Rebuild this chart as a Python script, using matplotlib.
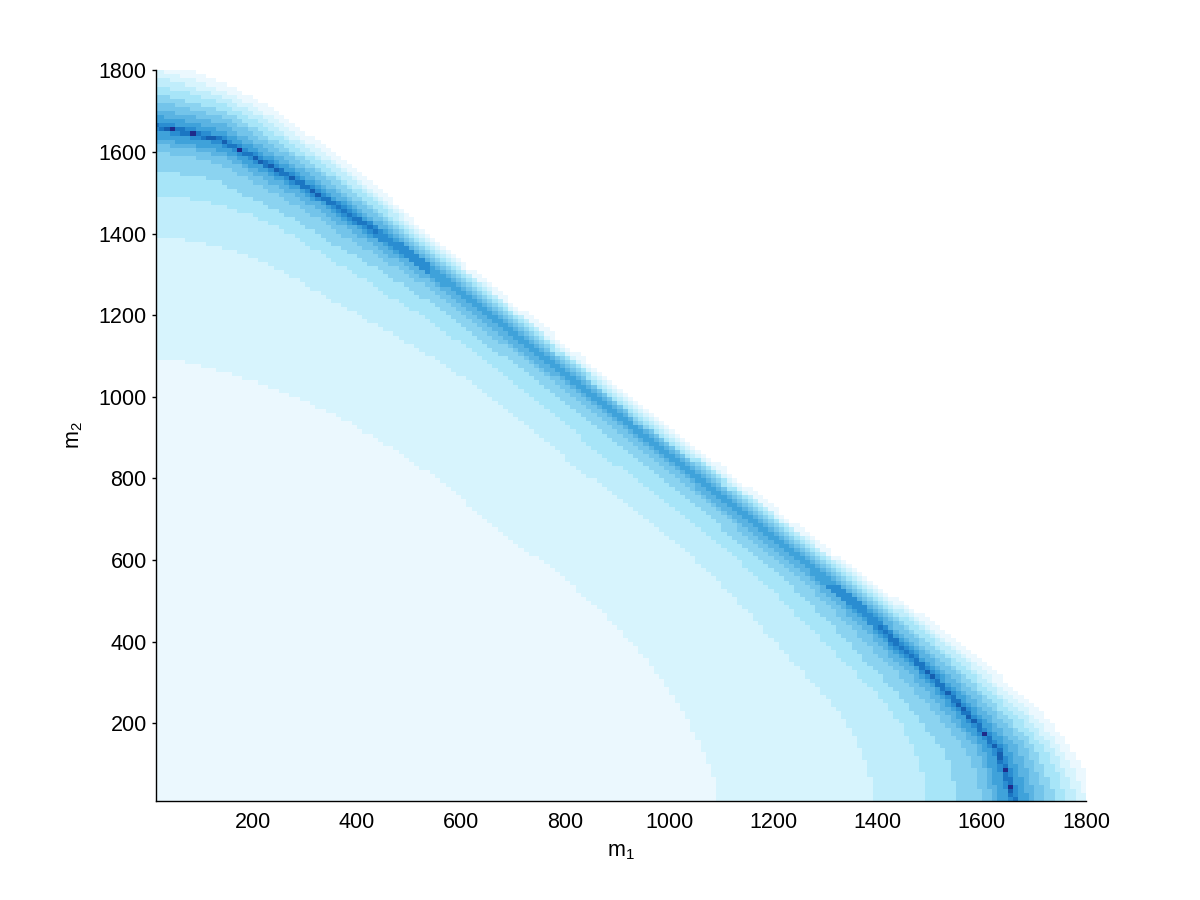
import numpy as np
import matplotlib.pyplot as plt
from matplotlib.colors import ListedColormap, BoundaryNorm

plt.rcParams['font.family'] = ['Liberation Sans', 'DejaVu Sans']
plt.rcParams['mathtext.fontset'] = 'custom'
plt.rcParams['mathtext.rm'] = 'Liberation Sans'

# Map grid (cell edges, same step on both axes)
M_STEP = 10
M_MIN, M_MAX = 10, 1800

# Band edges, in polar form (radius vs angle).
# The map is symmetric in m1 <-> m2, so the angle is folded onto 0..45 deg.
ANGLES = [0, 2.5, 5, 7.5, 10, 15, 20, 25, 30, 35, 40, 45]
RIDGE_R = [1663, 1650, 1634, 1595, 1562, 1494, 1442, 1396, 1356, 1328, 1313, 1308]
EDGE_R = [1830, 1803, 1772, 1730, 1680, 1598, 1512, 1452, 1412, 1385, 1368, 1360]

# Inner side: radius at which each level starts (level 2 ... level 8)
LEVEL2_R = [1095, 1090, 1082, 1072, 1061, 1040, 1022, 1002, 985, 970, 958, 952]
LEVEL3_R = [1392, 1388, 1378, 1362, 1343, 1292, 1255, 1230, 1208, 1188, 1172, 1165]
LEVEL4_R = [1494, 1490, 1478, 1460, 1435, 1378, 1332, 1298, 1268, 1243, 1228, 1221]
LEVEL5_R = [1553, 1545, 1534, 1500, 1472, 1414, 1372, 1334, 1301, 1278, 1266, 1263]
LEVEL6_R = [1603, 1591, 1576, 1539, 1507, 1444, 1398, 1358, 1324, 1300, 1288, 1284]
LEVEL7_R = [1623, 1611, 1596, 1558, 1526, 1462, 1414, 1373, 1337, 1312, 1299, 1295]
LEVEL8_R = [1633, 1622, 1608, 1571, 1542, 1477, 1428, 1385, 1347, 1321, 1307, 1302]

# Outer side: fraction of the ridge -> edge gap where level drops 8->7, ..., 1->0
OUTER_FRAC = [0.17, 0.27, 0.39, 0.50, 0.63, 0.74, 0.85, 1.0]

# Highest level reached on the ridge, and half widths of levels 9..12
PEAK_LEVEL = [12, 12, 12, 12, 11.5, 10.5, 9.5, 8.5, 8, 8, 8, 8]
PEAK_HALF = [11, 5, 1.8, 0.8]

# Level colours, white (outside) to dark navy (peak)
LEVEL_COLORS = [
    '#ffffff', '#ebf8fe', '#d7f4fd', '#c0edfb', '#a7e5f8', '#8bd3f0',
    '#73c4ea', '#5ab3e2', '#3fa2da', '#2a8dd1', '#1b76c2', '#155fb0',
    '#1f2b8a']

X_TICKS = [200, 400, 600, 800, 1000, 1200, 1400, 1600, 1800]
Y_TICKS = [200, 400, 600, 800, 1000, 1200, 1400, 1600, 1800]


#---------------------------   Build level map   ----------------------------#
edges = np.arange(M_MIN, M_MAX + M_STEP, M_STEP)
centres = edges[:-1] + M_STEP / 2
m1, m2 = np.meshgrid(centres, centres)

r = np.hypot(m1, m2)
theta = np.degrees(np.arctan2(m2, m1))
theta = np.minimum(theta, 90 - theta)

ridge = np.interp(theta, ANGLES, RIDGE_R)
edge = np.interp(theta, ANGLES, EDGE_R)

# inner side
inner = np.ones_like(r)
for bound in (LEVEL2_R, LEVEL3_R, LEVEL4_R, LEVEL5_R, LEVEL6_R, LEVEL7_R,
              LEVEL8_R):
    inner += r >= np.interp(theta, ANGLES, bound)

# outer side
frac = (r - ridge) / (edge - ridge)
outer = np.full_like(r, 8)
for f in OUTER_FRAC:
    outer -= frac > f

level = np.where(r < ridge, inner, outer)

# sharp peak along the ridge
dist = np.abs(r - ridge)
extra = np.zeros_like(r)
for h in PEAK_HALF:
    extra += dist < h
peak = np.floor(np.interp(theta, ANGLES, PEAK_LEVEL))
level = np.where(level == 8, np.minimum(8 + extra, peak), level)
#----------------------------------------------------------------------------#

#-------------------------------   Display   --------------------------------#
cmap = ListedColormap(LEVEL_COLORS)
norm = BoundaryNorm(np.arange(-0.5, len(LEVEL_COLORS) + 0.5), cmap.N)

fig = plt.figure(figsize=(12, 9), dpi=100)
ax = fig.add_axes([0.13, 0.11, 0.775, 0.812])

ax.pcolormesh(edges, edges, level, cmap=cmap, norm=norm, shading='flat',
              antialiased=False, edgecolors='none')

ax.set_xlim(14, 1800)
ax.set_ylim(10, 1800)
ax.set_xticks(X_TICKS)
ax.set_yticks(Y_TICKS)

for side in ('top', 'right'):
    ax.spines[side].set_visible(False)
for side in ('left', 'bottom'):
    ax.spines[side].set_linewidth(1.0)

ax.tick_params(axis='x', length=0, pad=8, labelsize=15.5)
ax.tick_params(axis='y', direction='out', length=2.7, width=1.0, pad=4,
               labelsize=15.5)

ax.set_xlabel(r'm$_\mathrm{1}$', fontsize=15.5, labelpad=6)
ax.set_ylabel(r'm$_\mathrm{2}$', fontsize=15.5, labelpad=10)

fig.savefig('out.png', dpi=100)
#----------------------------------------------------------------------------#
